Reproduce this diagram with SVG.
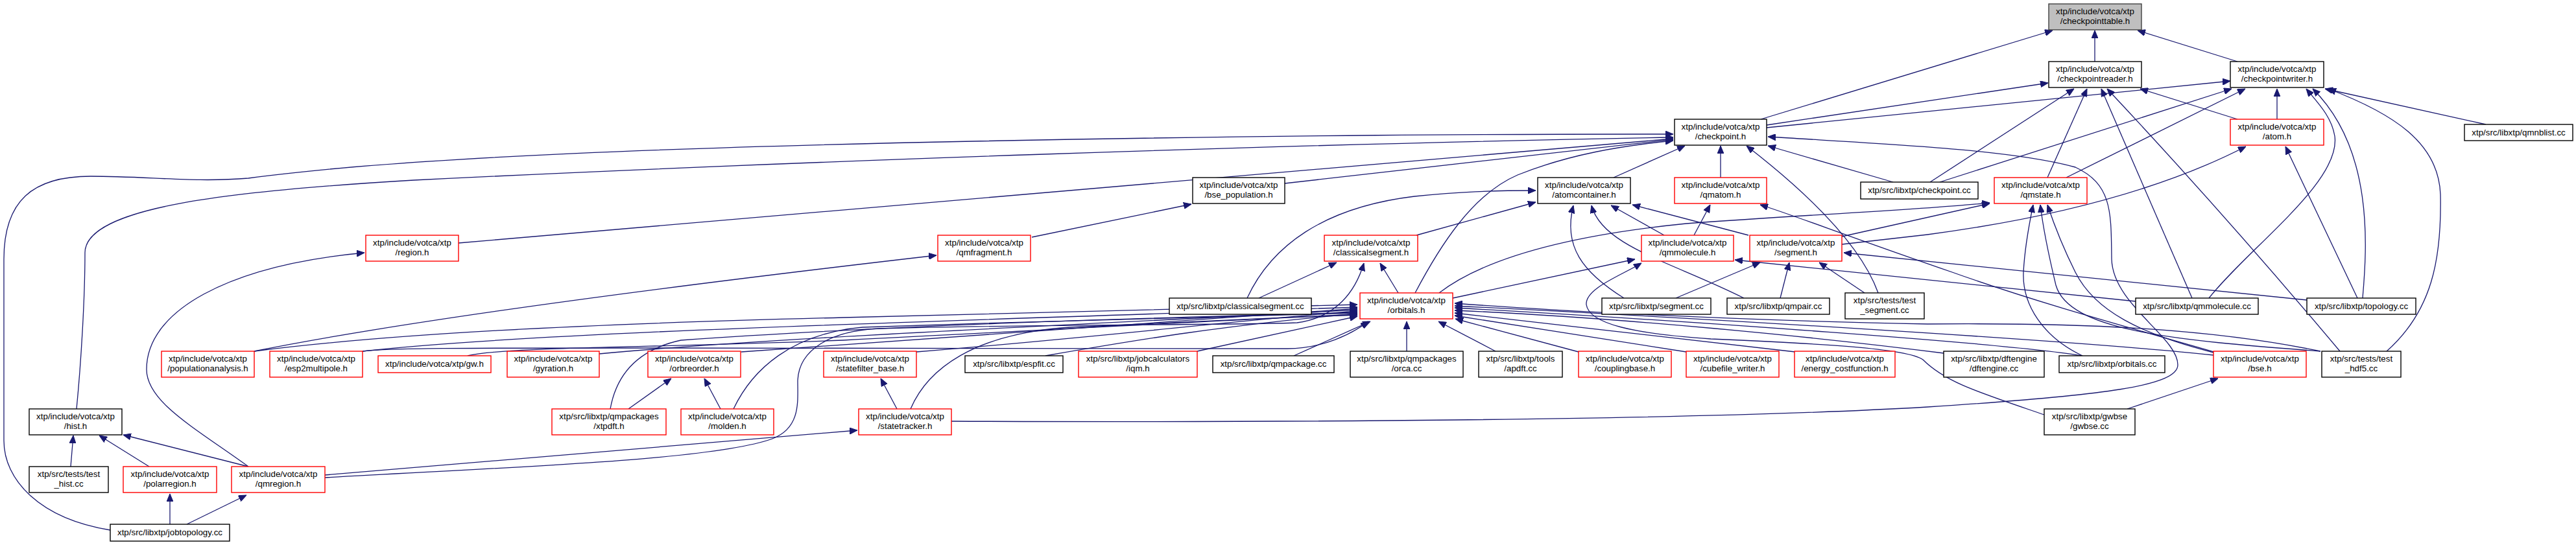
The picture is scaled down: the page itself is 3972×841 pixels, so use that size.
<svg xmlns="http://www.w3.org/2000/svg" width="3972" height="841" viewBox="0 0 3972 841">
<style>
.n rect{fill:#ffffff;stroke:#000000;stroke-width:1.4}
.r rect{stroke:#ff0000}
.root rect{fill:#bfbfbf;stroke:#404040}
text{font-family:"Liberation Sans",Arial,Helvetica,sans-serif;font-size:13.33px;fill:#000000;text-anchor:middle}
.e path{fill:none;stroke:#191970;stroke-width:1.3;marker-end:url(#a)}
</style>
<defs>
<marker id="a" viewBox="0 0 12 10" refX="12" refY="5" markerWidth="12" markerHeight="10" markerUnits="userSpaceOnUse" orient="auto">
<path d="M0,0 L12,5 L0,10 z" fill="#191970" stroke="#191970"/>
</marker>
</defs>
<rect x="0" y="0" width="3972" height="841" fill="#ffffff"/>
<g id="edges" class="e">
<path d="M2715,184 L3165,47"/>
<path d="M3230,95 L3230,47"/>
<path d="M3450,95 L3296,47"/>
<path d="M2724,193 L3158,128"/>
<path d="M2724,197 L3439,125"/>
<path d="M2976,281 L3198,137"/>
<path d="M3157,274 L3218,137"/>
<path d="M3380,460 L3240,137"/>
<path d="M3608,542 Q3430,330 3249,137"/>
<path d="M3450,184 L3300,137"/>
<path d="M2991,281 L3441,137"/>
<path d="M3186,274 L3462,137"/>
<path d="M3511,184 L3511,137"/>
<path d="M3406,460 C3470,380 3610,280 3600,210 C3595,180 3575,160 3556,137"/>
<path d="M3643,460 C3650,380 3660,230 3566,137"/>
<path d="M3833,192 L3585,137"/>
<path d="M3680,542 C3750,480 3765,400 3763,300 C3760,220 3690,175 3590,137"/>
<path d="M2840,377 L2972,362 C3100,345 3300,310 3463,226"/>
<path d="M3635,460 L3524,226"/>
<path d="M2488,274 L2598,225"/>
<path d="M2653,274 L2653,225"/>
<path d="M2896,452 C2870,380 2790,300 2693,225"/>
<path d="M2919,281 L2726,225"/>
<path d="M1467,650 C1900,652 2600,650 2972,628 C3250,610 3358,595 3358,563 C3358,520 3258,470 3256,400 C3255,330 3258,285 3200,258 C3100,230 2900,222 2726,211"/>
<path d="M1981,283 L2580,215"/>
<path d="M707,375 L2580,214"/>
<path d="M118,631 C125,560 131,460 131,390 C131,320 350,295 638,278 C1200,250 2000,222 2580,212"/>
<path d="M170,818 C60,800 6,740 6,680 L6,400 C6,310 50,272 140,272 C230,272 300,282 383,275 C600,245 1000,228 1500,218 C2000,208 2300,207 2580,207"/>
<path d="M2182,452 C2220,380 2270,300 2340,270 C2420,238 2500,225 2580,217"/>
<path d="M1923,460 C1960,380 2040,320 2181,303 C2250,296 2300,294 2368,294"/>
<path d="M2184,363 L2368,312"/>
<path d="M2504,460 C2440,420 2410,380 2426,317"/>
<path d="M2689,460 C2580,405 2470,380 2454,317"/>
<path d="M2566,363 L2484,317"/>
<path d="M2696,363 L2517,316"/>
<path d="M2612,363 L2637,316"/>
<path d="M3414,543 C3300,510 3150,470 3010,420 C2850,365 2760,330 2714,316"/>
<path d="M2219,452 C2300,390 2450,360 2600,345 C2800,330 2950,325 3068,313"/>
<path d="M2840,365 L3068,314"/>
<path d="M3211,549 C3150,520 3118,470 3120,420 C3122,380 3130,340 3135,316"/>
<path d="M3578,542 C3350,525 3190,510 3170,440 C3158,390 3150,350 3146,316"/>
<path d="M3413,544 C3300,515 3230,480 3200,420 C3180,380 3165,340 3157,316"/>
<path d="M3293,465 L2675,401"/>
<path d="M2240,460 L2521,400"/>
<path d="M3152,640 C3050,605 3000,590 2965,555 C2940,537 2800,530 2638,523 C2520,515 2450,500 2446,470 C2444,445 2500,425 2531,406"/>
<path d="M2875,452 L2805,405"/>
<path d="M2745,460 L2759,405"/>
<path d="M2584,460 L2714,405"/>
<path d="M3557,463 L2843,390"/>
<path d="M1941,460 L2061,405"/>
<path d="M501,737 C800,720 1100,710 1191,677 C1235,660 1230,620 1230,587 C1232,540 1280,510 1357,507 C1600,500 1900,502 2000,498 C2060,490 2090,450 2103,406"/>
<path d="M2156,452 L2128,406"/>
<path d="M392,542 Q700,480 1444,394"/>
<path d="M1591,366 L1837,315"/>
<path d="M383,720 C300,660 226,620 226,570 C226,480 350,410 562,390"/>
<path d="M109,720 L113,672"/>
<path d="M230,720 L153,672"/>
<path d="M383,720 L190,671"/>
<path d="M262,809 L262,762"/>
<path d="M288,809 L380,764"/>
<path d="M501,733 L1322,664"/>
<path d="M1383,631 L1358,584"/>
<path d="M1111,631 L1086,584"/>
<path d="M969,631 L1035,584"/>
<path d="M392,542 C600,515 900,500 1300,490 C1700,480 1950,475 2093,470"/>
<path d="M559,542 C800,515 1300,500 2093,474"/>
<path d="M559,542 C600,537 700,537 1000,537 L1985,538 C2040,538 2085,515 2110,496"/>
<path d="M721,549 C780,535 1000,537 1300,525 C1700,505 1950,490 2093,486"/>
<path d="M924,546 C1200,520 1700,500 2093,478"/>
<path d="M1143,543 C1500,515 1800,495 2093,476"/>
<path d="M1413,543 C1700,520 1900,495 2093,480"/>
<path d="M1612,549 C1750,525 1900,500 2093,484"/>
<path d="M1846,542 L2093,488"/>
<path d="M1995,549 L2113,496"/>
<path d="M2169,542 L2169,496"/>
<path d="M2306,542 L2218,496"/>
<path d="M2434,543 L2244,492"/>
<path d="M2600,543 L2243,487"/>
<path d="M2768,543 L2243,483"/>
<path d="M2997,545 C2800,520 2500,490 2243,479"/>
<path d="M3211,549 C3100,530 2600,495 2243,475"/>
<path d="M3413,548 C3200,525 2600,490 2243,472"/>
<path d="M3578,542 C3400,505 3200,498 2972,500 C2700,495 2400,480 2243,468"/>
<path d="M941,631 C950,580 980,540 1050,525 C1400,500 1800,490 2093,482"/>
<path d="M1131,631 C1160,570 1220,515 1330,505 C1600,495 1900,490 2093,483"/>
<path d="M1404,631 C1430,570 1500,515 1650,505 C1850,495 2000,490 2093,485"/>
<path d="M3280,631 L3420,584"/>
</g>
<g id="n_checkpointtable" class="n root"><rect x="3159" y="6" width="143" height="40"/><text x="3230.5" y="22">xtp/include/votca/xtp</text><text x="3230.5" y="37">/checkpointtable.h</text></g>
<g id="n_checkpointreader" class="n"><rect x="3159" y="95" width="143" height="40"/><text x="3230.5" y="111">xtp/include/votca/xtp</text><text x="3230.5" y="126">/checkpointreader.h</text></g>
<g id="n_checkpointwriter" class="n"><rect x="3439" y="95" width="144" height="40"/><text x="3511" y="111">xtp/include/votca/xtp</text><text x="3511" y="126">/checkpointwriter.h</text></g>
<g id="n_checkpoint_h" class="n"><rect x="2582" y="184" width="142" height="40"/><text x="2653" y="200">xtp/include/votca/xtp</text><text x="2653" y="215">/checkpoint.h</text></g>
<g id="n_atom" class="n r"><rect x="3439" y="184" width="144" height="40"/><text x="3511" y="200">xtp/include/votca/xtp</text><text x="3511" y="215">/atom.h</text></g>
<g id="n_qmnblist" class="n"><rect x="3800" y="192" width="167" height="25"/><text x="3883.5" y="209">xtp/src/libxtp/qmnblist.cc</text></g>
<g id="n_bse_population" class="n"><rect x="1839" y="274" width="142" height="40"/><text x="1910" y="290">xtp/include/votca/xtp</text><text x="1910" y="305">/bse_population.h</text></g>
<g id="n_atomcontainer" class="n"><rect x="2371" y="274" width="143" height="40"/><text x="2442.5" y="290">xtp/include/votca/xtp</text><text x="2442.5" y="305">/atomcontainer.h</text></g>
<g id="n_qmatom" class="n r"><rect x="2582" y="274" width="142" height="40"/><text x="2653" y="290">xtp/include/votca/xtp</text><text x="2653" y="305">/qmatom.h</text></g>
<g id="n_checkpoint_cc" class="n"><rect x="2869" y="281" width="181" height="26"/><text x="2959.5" y="298">xtp/src/libxtp/checkpoint.cc</text></g>
<g id="n_qmstate" class="n r"><rect x="3075" y="274" width="143" height="40"/><text x="3146.5" y="290">xtp/include/votca/xtp</text><text x="3146.5" y="305">/qmstate.h</text></g>
<g id="n_region" class="n r"><rect x="564" y="363" width="143" height="40"/><text x="635.5" y="379">xtp/include/votca/xtp</text><text x="635.5" y="394">/region.h</text></g>
<g id="n_qmfragment" class="n r"><rect x="1446" y="363" width="143" height="40"/><text x="1517.5" y="379">xtp/include/votca/xtp</text><text x="1517.5" y="394">/qmfragment.h</text></g>
<g id="n_classicalsegment_h" class="n r"><rect x="2042" y="363" width="144" height="40"/><text x="2114" y="379">xtp/include/votca/xtp</text><text x="2114" y="394">/classicalsegment.h</text></g>
<g id="n_qmmolecule_h" class="n r"><rect x="2531" y="363" width="142" height="40"/><text x="2602" y="379">xtp/include/votca/xtp</text><text x="2602" y="394">/qmmolecule.h</text></g>
<g id="n_segment_h" class="n r"><rect x="2698" y="363" width="142" height="40"/><text x="2769" y="379">xtp/include/votca/xtp</text><text x="2769" y="394">/segment.h</text></g>
<g id="n_classicalsegment_cc" class="n"><rect x="1803" y="460" width="219" height="25"/><text x="1912.5" y="477">xtp/src/libxtp/classicalsegment.cc</text></g>
<g id="n_orbitals_h" class="n r"><rect x="2097" y="452" width="143" height="40"/><text x="2168.5" y="468">xtp/include/votca/xtp</text><text x="2168.5" y="483">/orbitals.h</text></g>
<g id="n_segment_cc" class="n"><rect x="2470" y="460" width="168" height="25"/><text x="2554" y="477">xtp/src/libxtp/segment.cc</text></g>
<g id="n_qmpair_cc" class="n"><rect x="2663" y="460" width="158" height="25"/><text x="2742" y="477">xtp/src/libxtp/qmpair.cc</text></g>
<g id="n_test_segment" class="n"><rect x="2845" y="452" width="122" height="40"/><text x="2906" y="468">xtp/src/tests/test</text><text x="2906" y="483">_segment.cc</text></g>
<g id="n_qmmolecule_cc" class="n"><rect x="3293" y="460" width="189" height="25"/><text x="3387.5" y="477">xtp/src/libxtp/qmmolecule.cc</text></g>
<g id="n_topology_cc" class="n"><rect x="3557" y="460" width="168" height="25"/><text x="3641" y="477">xtp/src/libxtp/topology.cc</text></g>
<g id="n_populationanalysis" class="n r"><rect x="249" y="542" width="143" height="40"/><text x="320.5" y="558">xtp/include/votca/xtp</text><text x="320.5" y="573">/populationanalysis.h</text></g>
<g id="n_esp2multipole" class="n r"><rect x="416" y="542" width="143" height="40"/><text x="487.5" y="558">xtp/include/votca/xtp</text><text x="487.5" y="573">/esp2multipole.h</text></g>
<g id="n_gw" class="n r"><rect x="583" y="549" width="174" height="26"/><text x="670" y="566">xtp/include/votca/xtp/gw.h</text></g>
<g id="n_gyration" class="n r"><rect x="782" y="542" width="142" height="40"/><text x="853" y="558">xtp/include/votca/xtp</text><text x="853" y="573">/gyration.h</text></g>
<g id="n_orbreorder" class="n r"><rect x="999" y="542" width="143" height="40"/><text x="1070.5" y="558">xtp/include/votca/xtp</text><text x="1070.5" y="573">/orbreorder.h</text></g>
<g id="n_statefilter_base" class="n r"><rect x="1270" y="542" width="143" height="40"/><text x="1341.5" y="558">xtp/include/votca/xtp</text><text x="1341.5" y="573">/statefilter_base.h</text></g>
<g id="n_espfit" class="n"><rect x="1488" y="549" width="151" height="26"/><text x="1563.5" y="566">xtp/src/libxtp/espfit.cc</text></g>
<g id="n_iqm" class="n r"><rect x="1663" y="542" width="183" height="40"/><text x="1754.5" y="558">xtp/src/libxtp/jobcalculators</text><text x="1754.5" y="573">/iqm.h</text></g>
<g id="n_qmpackage_cc" class="n"><rect x="1870" y="549" width="187" height="26"/><text x="1963.5" y="566">xtp/src/libxtp/qmpackage.cc</text></g>
<g id="n_orca" class="n"><rect x="2082" y="542" width="174" height="40"/><text x="2169" y="558">xtp/src/libxtp/qmpackages</text><text x="2169" y="573">/orca.cc</text></g>
<g id="n_apdft" class="n"><rect x="2280" y="542" width="129" height="40"/><text x="2344.5" y="558">xtp/src/libxtp/tools</text><text x="2344.5" y="573">/apdft.cc</text></g>
<g id="n_couplingbase" class="n r"><rect x="2434" y="542" width="143" height="40"/><text x="2505.5" y="558">xtp/include/votca/xtp</text><text x="2505.5" y="573">/couplingbase.h</text></g>
<g id="n_cubefile_writer" class="n r"><rect x="2600" y="542" width="143" height="40"/><text x="2671.5" y="558">xtp/include/votca/xtp</text><text x="2671.5" y="573">/cubefile_writer.h</text></g>
<g id="n_energy_costfunction" class="n r"><rect x="2767" y="542" width="155" height="40"/><text x="2844.5" y="558">xtp/include/votca/xtp</text><text x="2844.5" y="573">/energy_costfunction.h</text></g>
<g id="n_dftengine" class="n"><rect x="2997" y="542" width="155" height="40"/><text x="3074.5" y="558">xtp/src/libxtp/dftengine</text><text x="3074.5" y="573">/dftengine.cc</text></g>
<g id="n_orbitals_cc" class="n"><rect x="3175" y="549" width="163" height="26"/><text x="3256.5" y="566">xtp/src/libxtp/orbitals.cc</text></g>
<g id="n_bse" class="n r"><rect x="3413" y="542" width="143" height="40"/><text x="3484.5" y="558">xtp/include/votca/xtp</text><text x="3484.5" y="573">/bse.h</text></g>
<g id="n_test_hdf5" class="n"><rect x="3580" y="542" width="122" height="40"/><text x="3641" y="558">xtp/src/tests/test</text><text x="3641" y="573">_hdf5.cc</text></g>
<g id="n_hist" class="n"><rect x="45" y="631" width="143" height="40"/><text x="116.5" y="647">xtp/include/votca/xtp</text><text x="116.5" y="662">/hist.h</text></g>
<g id="n_xtpdft" class="n r"><rect x="851" y="631" width="176" height="40"/><text x="939" y="647">xtp/src/libxtp/qmpackages</text><text x="939" y="662">/xtpdft.h</text></g>
<g id="n_molden" class="n r"><rect x="1050" y="631" width="143" height="40"/><text x="1121.5" y="647">xtp/include/votca/xtp</text><text x="1121.5" y="662">/molden.h</text></g>
<g id="n_statetracker" class="n r"><rect x="1324" y="631" width="143" height="40"/><text x="1395.5" y="647">xtp/include/votca/xtp</text><text x="1395.5" y="662">/statetracker.h</text></g>
<g id="n_gwbse" class="n"><rect x="3152" y="631" width="140" height="40"/><text x="3222" y="647">xtp/src/libxtp/gwbse</text><text x="3222" y="662">/gwbse.cc</text></g>
<g id="n_test_hist" class="n"><rect x="45" y="720" width="122" height="40"/><text x="106" y="736">xtp/src/tests/test</text><text x="106" y="751">_hist.cc</text></g>
<g id="n_polarregion" class="n r"><rect x="190" y="720" width="144" height="40"/><text x="262" y="736">xtp/include/votca/xtp</text><text x="262" y="751">/polarregion.h</text></g>
<g id="n_qmregion" class="n r"><rect x="357" y="720" width="144" height="40"/><text x="429" y="736">xtp/include/votca/xtp</text><text x="429" y="751">/qmregion.h</text></g>
<g id="n_jobtopology" class="n"><rect x="170" y="809" width="184" height="26"/><text x="262" y="826">xtp/src/libxtp/jobtopology.cc</text></g>
</svg>
